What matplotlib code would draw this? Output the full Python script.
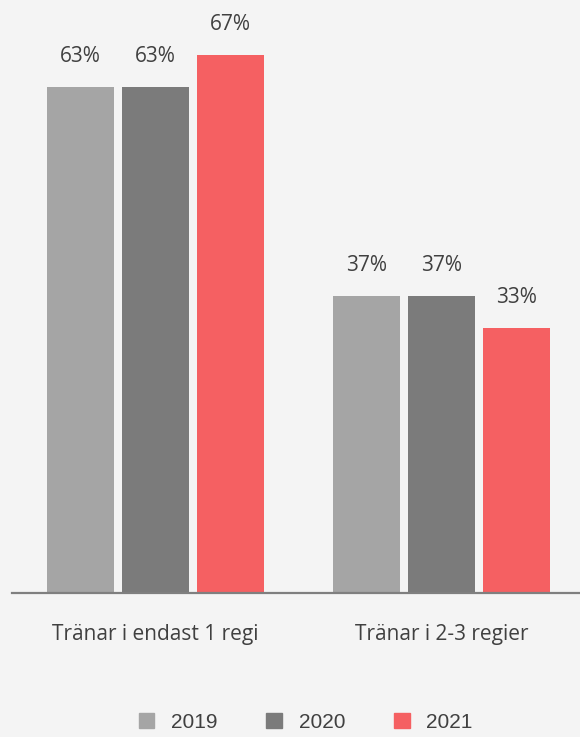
import numpy as np
import matplotlib.pyplot as plt
from matplotlib.patches import Patch

categories = ['Tränar i endast 1 regi', 'Tränar i 2-3 regier']
years = ['2019', '2020', '2021']
values = {
    '2019': [63, 37],
    '2020': [63, 37],
    '2021': [67, 33],
}
colors = ['#A5A5A5', '#7B7B7B', '#F56062']

bg = '#F4F4F4'
txt = '#404040'

fig = plt.figure(figsize=(5.8, 7.37), dpi=100, facecolor=bg)
ax = fig.add_axes([12 / 580, 1 - 593 / 737, 1 - 12 / 580, 593 / 737])
ax.set_facecolor(bg)

x = np.arange(len(categories))
w = 67 / 286
step = 75 / 286
for i, yr in enumerate(years):
    pos = x + (i - 1) * step
    bars = ax.bar(pos, values[yr], width=w, color=colors[i], zorder=2)
    for b, v in zip(bars, values[yr]):
        ax.annotate(f'{v}%', (b.get_x() + b.get_width() / 2, v),
                    xytext=(0, 20), textcoords='offset pixels',
                    ha='center', va='bottom', fontsize=15, color=txt,
                    family='Open Sans')

ax.set_xlim(-0.502, 1.484)
ax.set_ylim(0, 593 / 8.03)
for s in ['top', 'right', 'left']:
    ax.spines[s].set_visible(False)
ax.spines['bottom'].set_color('#7F7F7F')
ax.spines['bottom'].set_linewidth(1.6)
ax.set_yticks([])
ax.set_xticks(x)
ax.set_xticklabels(categories, fontsize=15, color=txt, family='Open Sans')
ax.tick_params(axis='x', length=0, pad=22)

handles = [Patch(color=c, label=y) for c, y in zip(colors, years)]
fig.legend(handles=handles, loc='center', bbox_to_anchor=(0.527, 1 - 722 / 737),
           ncol=3, frameon=False, handlelength=0.75, handleheight=0.75,
           handletextpad=0.8, columnspacing=2.35, labelcolor=txt,
           prop={'family': 'Liberation Sans', 'size': 15})

fig.savefig('out.png', dpi=100, facecolor=bg)
